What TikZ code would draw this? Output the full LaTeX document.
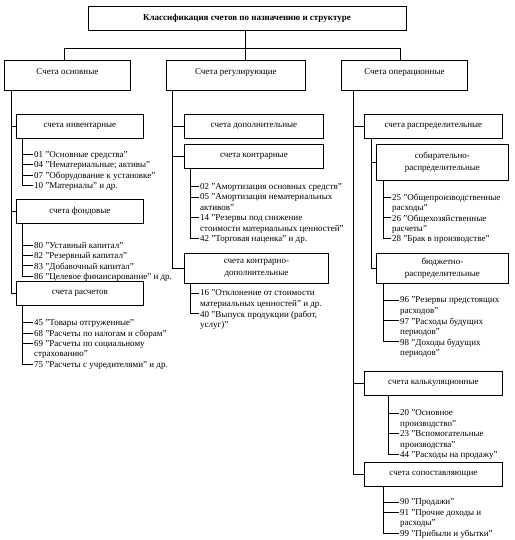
\documentclass[tikz,border=0pt]{standalone}
\usepackage{fontspec}
\setmainfont{Liberation Serif}
\begin{document}
\begin{tikzpicture}[x=1pt,y=-1pt,
  every node/.style={font=\fontsize{9}{10.4}\selectfont},
  box/.style={draw, line width=0.8pt, inner sep=0pt, align=center, anchor=north west},
  lvl/.style={box, text height=14pt, text depth=16pt},
  sub/.style={box, minimum height=24pt},
  subtwo/.style={box, font=\fontsize{9}{11.5}\selectfont},
  item/.style={anchor=north west, inner xsep=1pt, inner ysep=0pt, align=left},
  line/.style={line width=0.8pt}]
\useasboundingbox (0,0) rectangle (514,540);

% title
\node[box, anchor=center, minimum width=318pt, minimum height=24pt,
      font=\bfseries\fontsize{9}{10.4}\selectfont] (title) at (247,18)
      {Классификация счетов по назначению и структуре};

% level 1
\node[lvl, minimum width=126pt] (osn) at (4,60) {Счета основные};
\node[lvl, minimum width=139pt] (reg) at (166,60) {Счета регулирующие};
\node[lvl, minimum width=126pt] (oper) at (341,60) {Счета операционные};

\coordinate (bus) at (0,48);
\coordinate (bl) at ([xshift=60pt]osn.north west);
\coordinate (bm) at ([xshift=79pt]reg.north west);
\coordinate (br) at ([xshift=59pt]oper.north west);
\draw[line] (title.south -| bm) -- (bm);
\draw[line] (bl) -- (bl |- bus) -- (br |- bus) -- (br);

% ---------- left column
\node[sub, minimum width=127pt] (inv) at (16,114) {счета инвентарные};
\node[sub, minimum width=127pt] (fond) at (16,199) {счета фондовые};
\node[sub, minimum width=127pt] (rasch) at (16,281) {счета расчетов};
\coordinate (lt) at ([xshift=7pt]osn.south west);
\foreach \n in {inv,fond,rasch} \draw[line] (\n.west) -| (lt);

\node[item] (i01) at (33,151.3) {01 "Основные средства"};
\node[item] (i04) at (33,161.7) {04 "Нематериальные; активы"};
\node[item] (i07) at (33,172.1) {07 "Оборудование к установке"};
\node[item] (i10) at (33,182.5) {10 "Материалы" и др.};
\coordinate (t1) at ([xshift=6pt]inv.south west);
\foreach \n in {i01,i04,i07,i10} \draw[line] ([yshift=-3.2pt]\n.north west) -| (t1);

\node[item] (i80) at (33,241.8) {80 "Уставный капитал"};
\node[item] (i82) at (33,252.2) {82 "Резервный капитал"};
\node[item] (i83) at (33,262.6) {83 "Добавочный капитал"};
\node[item] (i86) at (33,273.0) {86 "Целевое финансирование" и др.};
\coordinate (t2) at ([xshift=6pt]fond.south west);
\foreach \n in {i80,i82,i83,i86} \draw[line] ([yshift=-3.2pt]\n.north west) -| (t2);

\node[item] (i45) at (33,319.3) {45 "Товары отгруженные"};
\node[item] (i68) at (33,329.7) {68 "Расчеты по налогам и сборам"};
\node[item] (i69) at (33,340.1) {69 "Расчеты по социальному\\страхованию"};
\node[item] (i75) at (33,360.9) {75 "Расчеты с учредителями" и др.};
\coordinate (t3) at ([xshift=6pt]rasch.south west);
\foreach \n in {i45,i68,i69,i75} \draw[line] ([yshift=-3.2pt]\n.north west) -| (t3);

% ---------- middle column
\node[sub, minimum width=139pt] (dop) at (184,114) {счета дополнительные};
\node[sub, minimum width=139pt] (kontr) at (184,144) {счета контрарные};
\node[subtwo, minimum width=144pt, minimum height=30pt] (kd) at (184,253) {счета контрарно-\\дополнительные};
\coordinate (mt) at ([xshift=6pt]reg.south west);
\foreach \n in {dop,kontr,kd} \draw[line] (\n.west) -| (mt);

\node[item] (i02) at (199,183.3) {02 "Амортизация основных средств"};
\node[item] (i05) at (199,193.7) {05 "Амортизация нематериальных\\активов"};
\node[item] (i14) at (199,214.5) {14 "Резервы под снижение\\стоимости материальных ценностей"};
\node[item] (i42) at (199,235.3) {42 "Торговая наценка" и др.};
\coordinate (t4) at ([xshift=6pt]kontr.south west);
\foreach \n in {i02,i05,i14,i42} \draw[line] ([yshift=-3.2pt]\n.north west) -| (t4);

\node[item] (i16) at (199,289.8) {16 "Отклонение от стоимости\\материальных ценностей" и др.};
\node[item] (i40) at (199,310.6) {40 "Выпуск продукции (работ,\\услуг)"};
\coordinate (t5) at ([xshift=6pt]kd.south west);
\foreach \n in {i16,i40} \draw[line] ([yshift=-3.2pt]\n.north west) -| (t5);

% ---------- right column
\node[sub, minimum width=138pt] (raspr) at (364,114) {счета распределительные};
\node[subtwo, minimum width=132pt, minimum height=36pt] (sobir) at (376,144) {собирательно-\\распределительные};
\node[subtwo, minimum width=132pt, minimum height=30pt] (budzh) at (376,253) {бюджетно-\\распределительные};
\node[sub, minimum width=138pt] (kalk) at (364,371) {счета калькуляционные};
\node[sub, minimum width=138pt] (sopost) at (364,462) {счета сопоставляющие};
\coordinate (rt) at ([xshift=12pt]oper.south west);
\foreach \n in {raspr,kalk,sopost} \draw[line] (\n.west) -| (rt);
\coordinate (rit) at ([xshift=7pt]raspr.south west);
\foreach \n in {sobir,budzh} \draw[line] (\n.west) -| (rit);

\node[item] (i25) at (391,193.8) {25 "Общепроизводственные\\расходы"};
\node[item] (i26) at (391,214.6) {26 "Общехозяйственные\\расчеты"};
\node[item] (i28) at (391,235.4) {28 "Брак в производстве"};
\coordinate (t6) at ([xshift=7pt]sobir.south west);
\foreach \n in {i25,i26,i28} \draw[line] ([yshift=-3.2pt]\n.north west) -| (t6);

\node[item] (i96) at (399,296.8) {96 "Резервы предстоящих\\расходов"};
\node[item] (i97) at (399,317.6) {97 "Расходы будущих\\периодов"};
\node[item] (i98) at (399,338.4) {98 "Доходы будущих\\периодов"};
\coordinate (t7) at ([xshift=7pt]budzh.south west);
\foreach \n in {i96,i97,i98} \draw[line] ([yshift=-3.2pt]\n.north west) -| (t7);

\node[item] (i20) at (399,409.8) {20 "Основное\\производство"};
\node[item] (i23) at (399,430.6) {23 "Вспомогательные\\производства"};
\node[item] (i44) at (399,451.4) {44 "Расходы на продажу"};
\coordinate (t8) at ([xshift=24pt]kalk.south west);
\foreach \n in {i20,i23,i44} \draw[line] ([yshift=-3.2pt]\n.north west) -| (t8);

\node[item] (i90) at (399,498.8) {90 "Продажи"};
\node[item] (i91) at (399,509.2) {91 "Прочие доходы и\\расходы"};
\node[item] (i99) at (399,530.0) {99 "Прибыли и убытки"};
\coordinate (t9) at ([xshift=19pt]sopost.south west);
\foreach \n in {i90,i91,i99} \draw[line] ([yshift=-3.2pt]\n.north west) -| (t9);
\end{tikzpicture}
\end{document}
